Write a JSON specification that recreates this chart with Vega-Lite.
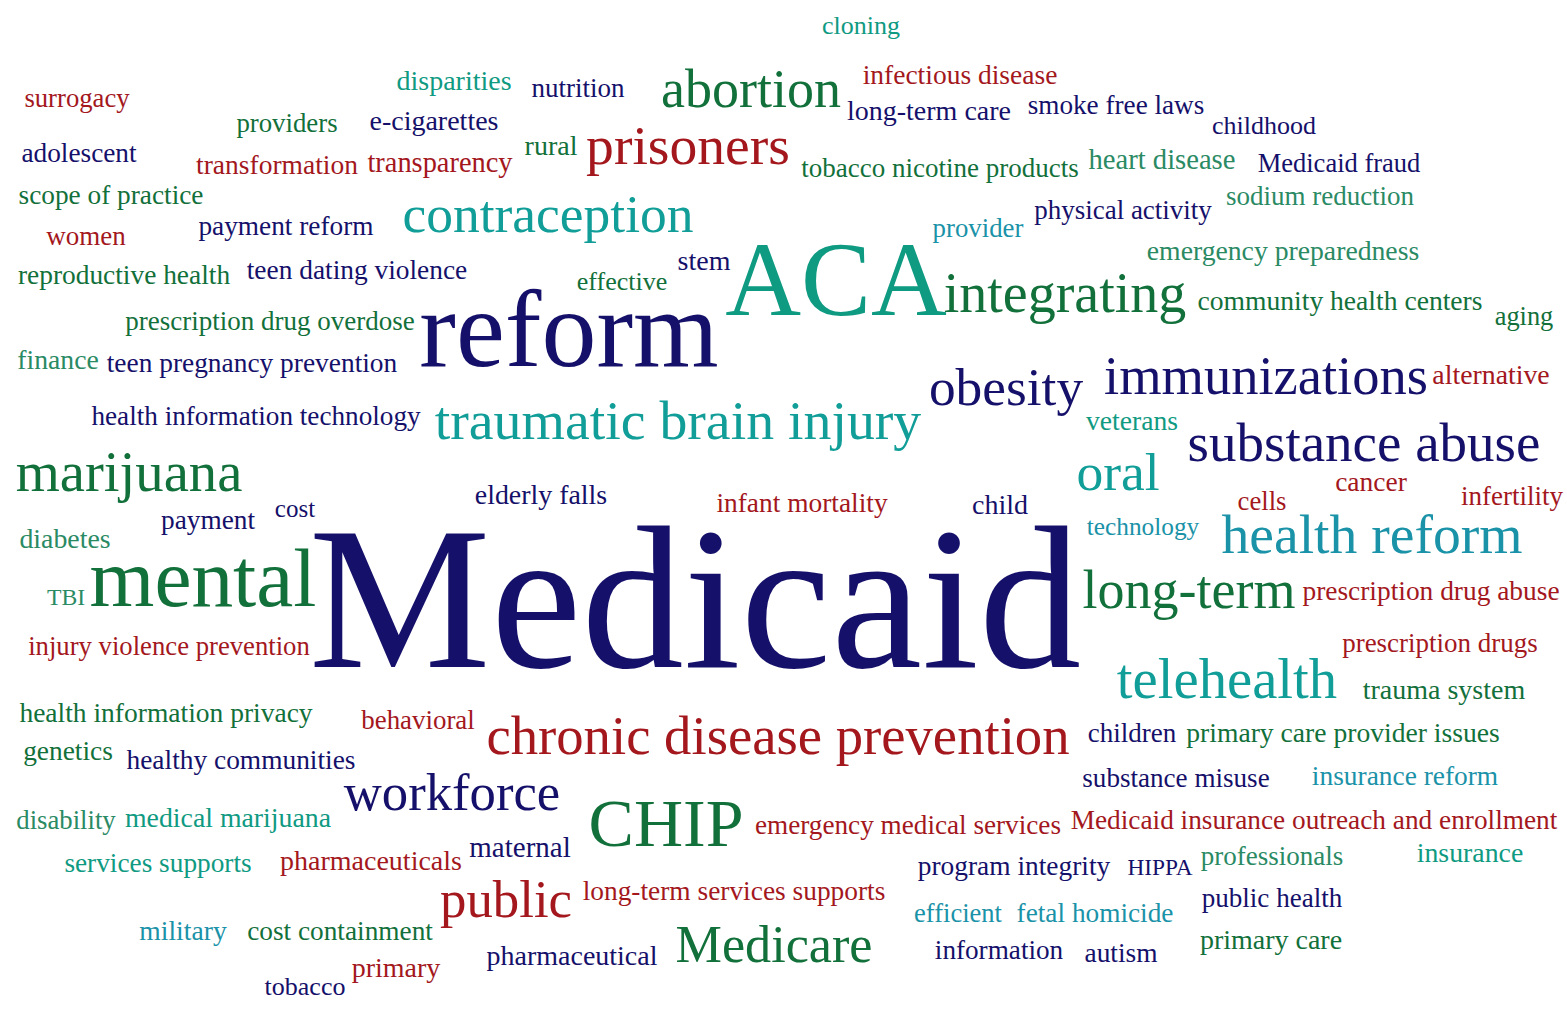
{
  "$schema": "https://vega.github.io/schema/vega-lite/v6.json",
  "width": 1567,
  "height": 1009,
  "padding": 0,
  "autosize": {"type": "fit", "contains": "padding"},
  "background": "white",
  "config": {"view": {"stroke": null}},
  "data": {"values": [
    {"word": "cloning", "x": 861, "y": 34, "size": 26, "group": "teal"},
    {"word": "disparities", "x": 454, "y": 90, "size": 28, "group": "teal"},
    {"word": "nutrition", "x": 578, "y": 97, "size": 27, "group": "navy"},
    {"word": "abortion", "x": 751, "y": 107, "size": 54, "group": "green"},
    {"word": "infectious disease", "x": 960, "y": 84, "size": 27.5, "group": "red"},
    {"word": "surrogacy", "x": 77, "y": 107, "size": 26.7, "group": "red"},
    {"word": "providers", "x": 287, "y": 132, "size": 26.8, "group": "green"},
    {"word": "e-cigarettes", "x": 434, "y": 130, "size": 28, "group": "navy"},
    {"word": "long-term care", "x": 929, "y": 120, "size": 28, "group": "navy"},
    {"word": "smoke free laws", "x": 1116, "y": 114, "size": 27.2, "group": "navy"},
    {"word": "childhood", "x": 1264, "y": 134, "size": 26, "group": "navy"},
    {"word": "adolescent", "x": 79, "y": 162, "size": 27.3, "group": "navy"},
    {"word": "transformation", "x": 277, "y": 174, "size": 27.5, "group": "red"},
    {"word": "transparency", "x": 440, "y": 172, "size": 28.4, "group": "red"},
    {"word": "rural", "x": 551, "y": 155, "size": 28, "group": "green"},
    {"word": "prisoners", "x": 688, "y": 164, "size": 55.6, "group": "red"},
    {"word": "tobacco nicotine products", "x": 940, "y": 177, "size": 27, "group": "green"},
    {"word": "heart disease", "x": 1162, "y": 169, "size": 28.6, "group": "seagreen"},
    {"word": "Medicaid fraud", "x": 1339, "y": 172, "size": 26.5, "group": "navy"},
    {"word": "scope of practice", "x": 111, "y": 204, "size": 27.3, "group": "green"},
    {"word": "contraception", "x": 548, "y": 232, "size": 53.5, "group": "aqua"},
    {"word": "provider", "x": 978, "y": 237, "size": 26.8, "group": "cyan"},
    {"word": "physical activity", "x": 1123, "y": 219, "size": 27, "group": "navy"},
    {"word": "sodium reduction", "x": 1320, "y": 205, "size": 27, "group": "seagreen"},
    {"word": "women", "x": 86, "y": 245, "size": 27, "group": "red"},
    {"word": "payment reform", "x": 286, "y": 235, "size": 27.3, "group": "navy"},
    {"word": "ACA", "x": 836, "y": 315, "size": 105, "group": "teal"},
    {"word": "emergency preparedness", "x": 1283, "y": 260, "size": 27.7, "group": "seagreen"},
    {"word": "reproductive health", "x": 124, "y": 284, "size": 27.4, "group": "green"},
    {"word": "teen dating violence", "x": 357, "y": 279, "size": 27.4, "group": "navy"},
    {"word": "effective", "x": 622, "y": 290, "size": 26, "group": "green"},
    {"word": "stem", "x": 704, "y": 270, "size": 28, "group": "navy"},
    {"word": "reform", "x": 569, "y": 366, "size": 110, "group": "navy"},
    {"word": "integrating", "x": 1065, "y": 312, "size": 56, "group": "green"},
    {"word": "community health centers", "x": 1340, "y": 310, "size": 27.6, "group": "green"},
    {"word": "aging", "x": 1524, "y": 325, "size": 26.4, "group": "green"},
    {"word": "prescription drug overdose", "x": 270, "y": 330, "size": 27, "group": "green"},
    {"word": "finance", "x": 58, "y": 369, "size": 27.7, "group": "seagreen"},
    {"word": "teen pregnancy prevention", "x": 252, "y": 372, "size": 27.4, "group": "navy"},
    {"word": "obesity", "x": 1006, "y": 405, "size": 53.4, "group": "navy"},
    {"word": "immunizations", "x": 1266, "y": 394, "size": 54.5, "group": "navy"},
    {"word": "alternative", "x": 1491, "y": 384, "size": 27.8, "group": "red"},
    {"word": "health information technology", "x": 256, "y": 425, "size": 27.2, "group": "navy"},
    {"word": "traumatic brain injury", "x": 678, "y": 439, "size": 55.8, "group": "aqua"},
    {"word": "veterans", "x": 1132, "y": 430, "size": 27.6, "group": "teal"},
    {"word": "substance abuse", "x": 1364, "y": 461, "size": 55, "group": "navy"},
    {"word": "marijuana", "x": 129, "y": 491, "size": 56.7, "group": "green"},
    {"word": "elderly falls", "x": 541, "y": 504, "size": 27.9, "group": "navy"},
    {"word": "infant mortality", "x": 802, "y": 512, "size": 27.4, "group": "red"},
    {"word": "child", "x": 1000, "y": 514, "size": 28, "group": "navy"},
    {"word": "oral", "x": 1118, "y": 490, "size": 53.5, "group": "aqua"},
    {"word": "cells", "x": 1262, "y": 510, "size": 26.7, "group": "red"},
    {"word": "cancer", "x": 1371, "y": 491, "size": 27.5, "group": "red"},
    {"word": "infertility", "x": 1512, "y": 505, "size": 27, "group": "red"},
    {"word": "cost", "x": 295, "y": 517, "size": 25, "group": "navy"},
    {"word": "payment", "x": 208, "y": 529, "size": 27.3, "group": "navy"},
    {"word": "diabetes", "x": 65, "y": 548, "size": 27.8, "group": "seagreen"},
    {"word": "technology", "x": 1143, "y": 535, "size": 25.3, "group": "cyan"},
    {"word": "health reform", "x": 1372, "y": 553, "size": 55.6, "group": "cyan"},
    {"word": "Medicaid", "x": 695, "y": 667, "size": 204.5, "group": "navy"},
    {"word": "TBI", "x": 66, "y": 605, "size": 23.7, "group": "seagreen"},
    {"word": "mental", "x": 203, "y": 606, "size": 83.4, "group": "green"},
    {"word": "long-term", "x": 1189, "y": 608, "size": 54, "group": "green"},
    {"word": "prescription drug abuse", "x": 1431, "y": 600, "size": 27.4, "group": "red"},
    {"word": "injury violence prevention", "x": 169, "y": 655, "size": 26.7, "group": "red"},
    {"word": "prescription drugs", "x": 1440, "y": 652, "size": 27, "group": "red"},
    {"word": "telehealth", "x": 1227, "y": 698, "size": 56.7, "group": "aqua"},
    {"word": "trauma system", "x": 1444, "y": 699, "size": 28, "group": "green"},
    {"word": "health information privacy", "x": 166, "y": 722, "size": 27.5, "group": "green"},
    {"word": "behavioral", "x": 418, "y": 729, "size": 26.9, "group": "red"},
    {"word": "chronic disease prevention", "x": 778, "y": 754, "size": 54.7, "group": "red"},
    {"word": "children", "x": 1132, "y": 742, "size": 27, "group": "navy"},
    {"word": "primary care provider issues", "x": 1343, "y": 742, "size": 27.6, "group": "green"},
    {"word": "genetics", "x": 68, "y": 760, "size": 27.4, "group": "green"},
    {"word": "healthy communities", "x": 241, "y": 769, "size": 27.4, "group": "navy"},
    {"word": "substance misuse", "x": 1176, "y": 787, "size": 27.1, "group": "navy"},
    {"word": "insurance reform", "x": 1405, "y": 785, "size": 27.4, "group": "cyan"},
    {"word": "workforce", "x": 452, "y": 810, "size": 52.7, "group": "navy"},
    {"word": "CHIP", "x": 666, "y": 846, "size": 68, "group": "green"},
    {"word": "disability", "x": 66, "y": 829, "size": 26.7, "group": "seagreen"},
    {"word": "medical marijuana", "x": 228, "y": 827, "size": 27.8, "group": "teal"},
    {"word": "emergency medical services", "x": 908, "y": 834, "size": 27.2, "group": "red"},
    {"word": "Medicaid insurance outreach and enrollment", "x": 1314, "y": 829, "size": 27.3, "group": "red"},
    {"word": "services supports", "x": 158, "y": 872, "size": 27.3, "group": "teal"},
    {"word": "pharmaceuticals", "x": 371, "y": 870, "size": 28, "group": "red"},
    {"word": "maternal", "x": 520, "y": 857, "size": 29, "group": "navy"},
    {"word": "program integrity", "x": 1014, "y": 875, "size": 27.4, "group": "navy"},
    {"word": "HIPPA", "x": 1160, "y": 875, "size": 23.3, "group": "navy"},
    {"word": "professionals", "x": 1272, "y": 865, "size": 27, "group": "seagreen"},
    {"word": "insurance", "x": 1470, "y": 862, "size": 27.8, "group": "teal"},
    {"word": "public", "x": 506, "y": 917, "size": 52.8, "group": "red"},
    {"word": "long-term services supports", "x": 734, "y": 900, "size": 27.4, "group": "red"},
    {"word": "efficient", "x": 958, "y": 922, "size": 26.5, "group": "cyan"},
    {"word": "fetal homicide", "x": 1095, "y": 922, "size": 27.3, "group": "cyan"},
    {"word": "public health", "x": 1272, "y": 907, "size": 27.1, "group": "navy"},
    {"word": "military", "x": 183, "y": 940, "size": 27.6, "group": "cyan"},
    {"word": "cost containment", "x": 340, "y": 940, "size": 27.3, "group": "green"},
    {"word": "Medicare", "x": 774, "y": 962, "size": 52.2, "group": "green"},
    {"word": "information", "x": 999, "y": 959, "size": 27.2, "group": "navy"},
    {"word": "autism", "x": 1121, "y": 962, "size": 27.4, "group": "navy"},
    {"word": "primary care", "x": 1271, "y": 949, "size": 28, "group": "green"},
    {"word": "tobacco", "x": 305, "y": 995, "size": 26, "group": "navy"},
    {"word": "primary", "x": 396, "y": 977, "size": 28, "group": "red"},
    {"word": "pharmaceutical", "x": 572, "y": 965, "size": 28, "group": "navy"}
  ]},
  "mark": {
    "type": "text",
    "align": "center",
    "baseline": "alphabetic",
    "font": "Liberation Serif"
  },
  "encoding": {
    "x": {"field": "x", "type": "quantitative", "axis": null, "scale": {"domain": [0, 1567], "nice": false, "zero": false}},
    "y": {"field": "y", "type": "quantitative", "axis": null, "scale": {"domain": [0, 1009], "nice": false, "zero": false, "reverse": true}},
    "text": {"field": "word"},
    "size": {"field": "size", "type": "quantitative", "legend": null, "scale": {"type": "linear", "domain": [0, 100], "range": [0, 100]}},
    "color": {"field": "group", "type": "nominal", "legend": null, "scale": {"domain": ["navy", "red", "green", "teal", "seagreen", "cyan", "aqua"], "range": ["#15106a", "#a3171d", "#12703a", "#0f9a82", "#2a8a64", "#1a92a8", "#119e98"]}}
  }
}
